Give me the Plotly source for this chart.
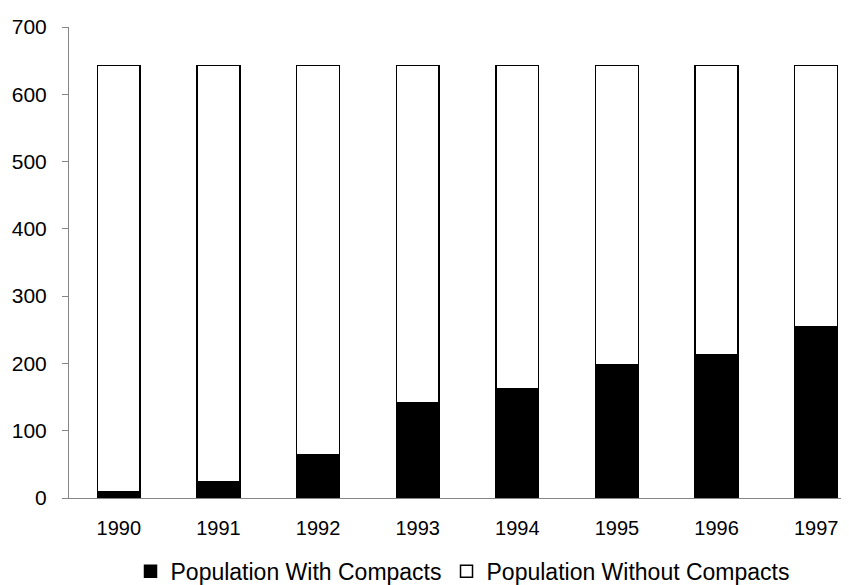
import plotly.graph_objects as go

years = ["1990", "1991", "1992", "1993", "1994", "1995", "1996", "1997"]
total_population = 643
with_compacts = [9, 24, 65, 142, 163, 198, 213, 255]
without_compacts = [total_population - v for v in with_compacts]
y_ticks = [0, 100, 200, 300, 400, 500, 600, 700]

font_family = "Liberation Sans, Arial, sans-serif"

fig = go.Figure()
fig.add_trace(go.Bar(
    x=years, y=with_compacts, name="Population With Compacts",
    marker=dict(color="black", line=dict(color="black", width=1.5)),
))
fig.add_trace(go.Bar(
    x=years, y=without_compacts, name="Population Without Compacts",
    marker=dict(color="white", line=dict(color="black", width=1.5)),
))

fig.update_layout(
    barmode="stack",
    bargap=0.57,
    width=849, height=585,
    margin=dict(l=61, r=0, t=19, b=92),
    plot_bgcolor="white", paper_bgcolor="white",
    font=dict(family=font_family, color="black", size=20),
    showlegend=True,
    legend=dict(orientation="h", x=0.5, xanchor="center", y=-0.11, yanchor="top",
                font=dict(size=23), traceorder="normal", itemwidth=30,
                tracegroupgap=0),
)
fig.update_xaxes(
    type="category", range=[-0.5, 7.41],
    showline=True, linecolor="#868686", linewidth=1,
    ticks="", showgrid=False, tickfont=dict(size=20),
    ticklabelstandoff=12,
)
fig.update_yaxes(
    range=[0, 700], tickvals=y_ticks,
    showline=True, linecolor="#868686", linewidth=1,
    ticks="outside", ticklen=6, tickcolor="#868686",
    showgrid=False, zeroline=False, tickfont=dict(size=21),
    ticklabelstandoff=11,
)

fig.write_html("out.html")
